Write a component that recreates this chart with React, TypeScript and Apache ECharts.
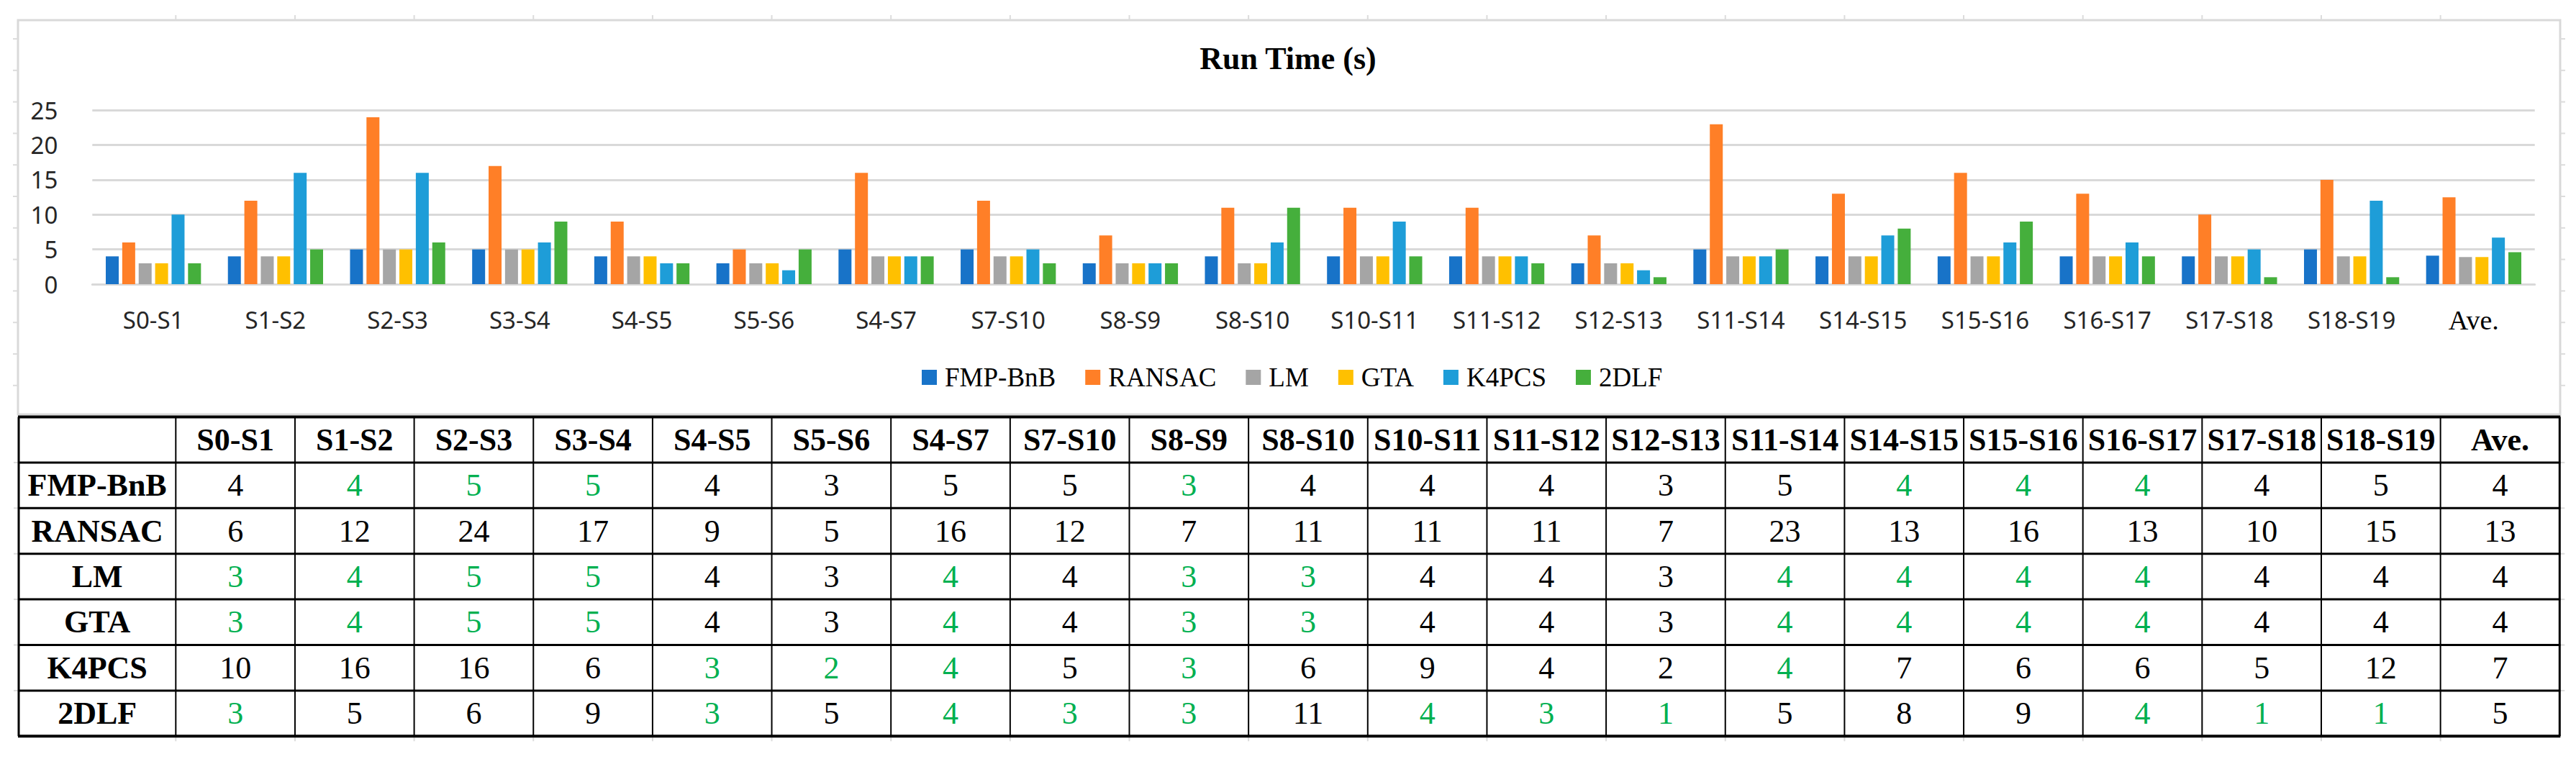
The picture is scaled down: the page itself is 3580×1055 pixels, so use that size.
import React, { useEffect, useRef } from 'react';
import * as echarts from 'echarts';

const categories = ['S0-S1', 'S1-S2', 'S2-S3', 'S3-S4', 'S4-S5', 'S5-S6', 'S4-S7', 'S7-S10', 'S8-S9', 'S8-S10', 'S10-S11', 'S11-S12', 'S12-S13', 'S11-S14', 'S14-S15', 'S15-S16', 'S16-S17', 'S17-S18', 'S18-S19', 'Ave.'];
const methods = ['FMP-BnB', 'RANSAC', 'LM', 'GTA', 'K4PCS', '2DLF'];
const colors = ['#1873C8', '#FF7F27', '#A5A5A5', '#FFC000', '#1E9DD8', '#45AF3C'];

const fmpBnB = [4, 4, 5, 5, 4, 3, 5, 5, 3, 4, 4, 4, 3, 5, 4, 4, 4, 4, 5, 4.1];
const ransac = [6, 12, 24, 17, 9, 5, 16, 12, 7, 11, 11, 11, 7, 23, 13, 16, 13, 10, 15, 12.5];
const lm = [3, 4, 5, 5, 4, 3, 4, 4, 3, 3, 4, 4, 3, 4, 4, 4, 4, 4, 4, 3.9];
const gta = [3, 4, 5, 5, 4, 3, 4, 4, 3, 3, 4, 4, 3, 4, 4, 4, 4, 4, 4, 3.9];
const k4pcs = [10, 16, 16, 6, 3, 2, 4, 5, 3, 6, 9, 4, 2, 4, 7, 6, 6, 5, 12, 6.7];
const dlf2 = [3, 5, 6, 9, 3, 5, 4, 3, 3, 11, 4, 3, 1, 5, 8, 9, 4, 1, 1, 4.6];

// cells printed in green (best result) in the table
const greenFmp = [0, 1, 1, 1, 0, 0, 0, 0, 1, 0, 0, 0, 0, 0, 1, 1, 1, 0, 0, 0];
const greenRansac = [0, 0, 0, 0, 0, 0, 0, 0, 0, 0, 0, 0, 0, 0, 0, 0, 0, 0, 0, 0];
const greenLm = [1, 1, 1, 1, 0, 0, 1, 0, 1, 1, 0, 0, 0, 1, 1, 1, 1, 0, 0, 0];
const greenGta = [1, 1, 1, 1, 0, 0, 1, 0, 1, 1, 0, 0, 0, 1, 1, 1, 1, 0, 0, 0];
const greenK4pcs = [0, 0, 0, 0, 1, 1, 1, 0, 1, 0, 0, 0, 0, 1, 0, 0, 0, 0, 0, 0];
const green2dlf = [1, 0, 0, 0, 1, 0, 1, 1, 1, 0, 1, 1, 1, 0, 0, 0, 1, 1, 1, 0];

const yTicks = { min: 0, max: 25, interval: 5 };

const seriesData = [fmpBnB, ransac, lm, gta, k4pcs, dlf2];
const greens = [greenFmp, greenRansac, greenLm, greenGta, greenK4pcs, green2dlf];

const W = 3580;
const H = 1055;
const SERIF = '"Liberation Serif", "Times New Roman", serif';
const SANS = '"Noto Sans", "Open Sans", sans-serif';
const GRID_COLOR = '#d9d9d9';

function buildGraphics() {
  const els: any[] = [];
  // chart area frame
  els.push({
    type: 'rect',
    shape: { x: 25, y: 28, width: 3533, height: 548 },
    style: { fill: 'none', stroke: GRID_COLOR, lineWidth: 3 },
    silent: true,
  });

  // table geometry
  const tLeft = 26;
  const firstColRight = 244.3;
  const colW = 165.65;
  const tTop = 579.5;
  const rowH = 63.4;
  const nRows = methods.length + 1;
  const tBottom = tTop + rowH * nRows;
  const tRight = firstColRight + colW * categories.length;

  // spreadsheet gridline stubs
  const stub = '#dcdcdc';
  for (let k = 0; k < 12; k++) {
    const y = 54 + 43.8 * k;
    els.push({ type: 'line', shape: { x1: 18, y1: y, x2: 25, y2: y }, style: { stroke: stub, lineWidth: 2 }, silent: true });
    els.push({ type: 'line', shape: { x1: 3558, y1: y, x2: 3565, y2: y }, style: { stroke: stub, lineWidth: 2 }, silent: true });
  }
  for (let r = 1; r < nRows; r++) {
    const y = tTop + rowH * r;
    els.push({ type: 'line', shape: { x1: 19, y1: y, x2: tLeft, y2: y }, style: { stroke: stub, lineWidth: 2 }, silent: true });
    els.push({ type: 'line', shape: { x1: tRight, y1: y, x2: tRight + 7, y2: y }, style: { stroke: stub, lineWidth: 2 }, silent: true });
  }
  for (let c = 0; c < categories.length; c++) {
    const x = firstColRight + colW * c;
    els.push({ type: 'line', shape: { x1: x, y1: 21, x2: x, y2: 28 }, style: { stroke: stub, lineWidth: 2 }, silent: true });
    els.push({ type: 'line', shape: { x1: x, y1: tBottom, x2: x, y2: tBottom + 7 }, style: { stroke: stub, lineWidth: 2 }, silent: true });
  }

  // table lines
  for (let r = 0; r <= nRows; r++) {
    const y = tTop + rowH * r;
    els.push({
      type: 'line',
      shape: { x1: tLeft - 1, y1: y, x2: tRight + 1, y2: y },
      style: { stroke: '#000', lineWidth: r === 0 || r === nRows ? 4 : 3 },
      silent: true,
      z: 10,
    });
  }
  const vx = [tLeft, firstColRight];
  for (let c = 1; c <= categories.length; c++) vx.push(firstColRight + colW * c);
  vx.forEach((x, i) => {
    els.push({
      type: 'line',
      shape: { x1: x, y1: tTop, x2: x, y2: tBottom },
      style: { stroke: '#000', lineWidth: i === 0 || i === vx.length - 1 ? 3 : 2 },
      silent: true,
      z: 10,
    });
  });

  // header texts
  categories.forEach((cat, c) => {
    els.push({
      type: 'text',
      x: firstColRight + colW * (c + 0.5),
      y: tTop + rowH * 0.5,
      style: {
        text: cat,
        fill: '#000',
        fontFamily: SERIF,
        fontWeight: 'bold',
        fontSize: 44,
        align: 'center',
        verticalAlign: 'middle',
      },
      silent: true,
      z: 11,
    });
  });
  methods.forEach((m, r) => {
    const cy = tTop + rowH * (r + 1.5);
    els.push({
      type: 'text',
      x: (tLeft + firstColRight) / 2,
      y: cy,
      style: {
        text: m,
        fill: '#000',
        fontFamily: SERIF,
        fontWeight: 'bold',
        fontSize: 44,
        align: 'center',
        verticalAlign: 'middle',
      },
      silent: true,
      z: 11,
    });
    seriesData[r].forEach((v, c) => {
      els.push({
        type: 'text',
        x: firstColRight + colW * (c + 0.5),
        y: cy,
        style: {
          text: String(Math.round(v)),
          fill: greens[r][c] ? '#00B050' : '#000',
          fontFamily: SERIF,
          fontSize: 44,
          align: 'center',
          verticalAlign: 'middle',
        },
        silent: true,
        z: 11,
      });
    });
  });
  return els;
}

export default function App() {
  const ref = useRef<HTMLDivElement | null>(null);

  useEffect(() => {
    document.body.style.margin = '0';
    if (!ref.current) return;
    const chart = echarts.init(ref.current, undefined, { renderer: 'svg' });
    chart.setOption({
      animation: false,
      backgroundColor: '#ffffff',
      title: {
        text: 'Run Time (s)',
        left: 'center',
        top: 54,
        textStyle: {
          fontFamily: SERIF,
          fontWeight: 'bold',
          fontSize: 44,
          lineHeight: 44,
          color: '#000',
        },
      },
      legend: {
        data: methods,
        left: 1276,
        top: 501,
        itemWidth: 21,
        itemHeight: 21,
        itemGap: 41,
        icon: 'rect',
        textStyle: {
          fontFamily: SERIF,
          fontSize: 37,
          color: '#000',
          padding: [0, 0, 0, 6],
        },
      },
      grid: {
        left: 128.3,
        right: W - 3522.7,
        top: 153.3,
        bottom: H - 395,
        containLabel: false,
      },
      xAxis: {
        type: 'category',
        data: categories,
        axisLine: { show: true, lineStyle: { color: GRID_COLOR, width: 3 } },
        axisTick: { show: false },
        axisLabel: {
          interval: 0,
          margin: 33,
          fontFamily: SANS,
          fontSize: 33,
          lineHeight: 33,
          color: '#262626',
          formatter: (v: string) => (v === 'Ave.' ? `{s|${v}}` : v),
          rich: {
            s: { fontFamily: SERIF, fontSize: 38, lineHeight: 33, color: '#000' },
          },
        },
      },
      yAxis: {
        type: 'value',
        min: yTicks.min,
        max: yTicks.max,
        interval: yTicks.interval,
        axisLine: { show: false },
        axisTick: { show: false },
        splitLine: { lineStyle: { color: GRID_COLOR, width: 3 } },
        axisLabel: {
          margin: 48,
          fontFamily: SANS,
          fontSize: 33,
          color: '#262626',
        },
      },
      series: methods.map((m, i) => ({
        name: m,
        type: 'bar',
        data: seriesData[i],
        barWidth: 18,
        barGap: '27%',
        itemStyle: { color: colors[i] },
      })),
      graphic: buildGraphics(),
    });
    return () => {
      chart.dispose();
    };
  }, []);

  return <div ref={ref} style={{ width: W, height: H }} />;
}
